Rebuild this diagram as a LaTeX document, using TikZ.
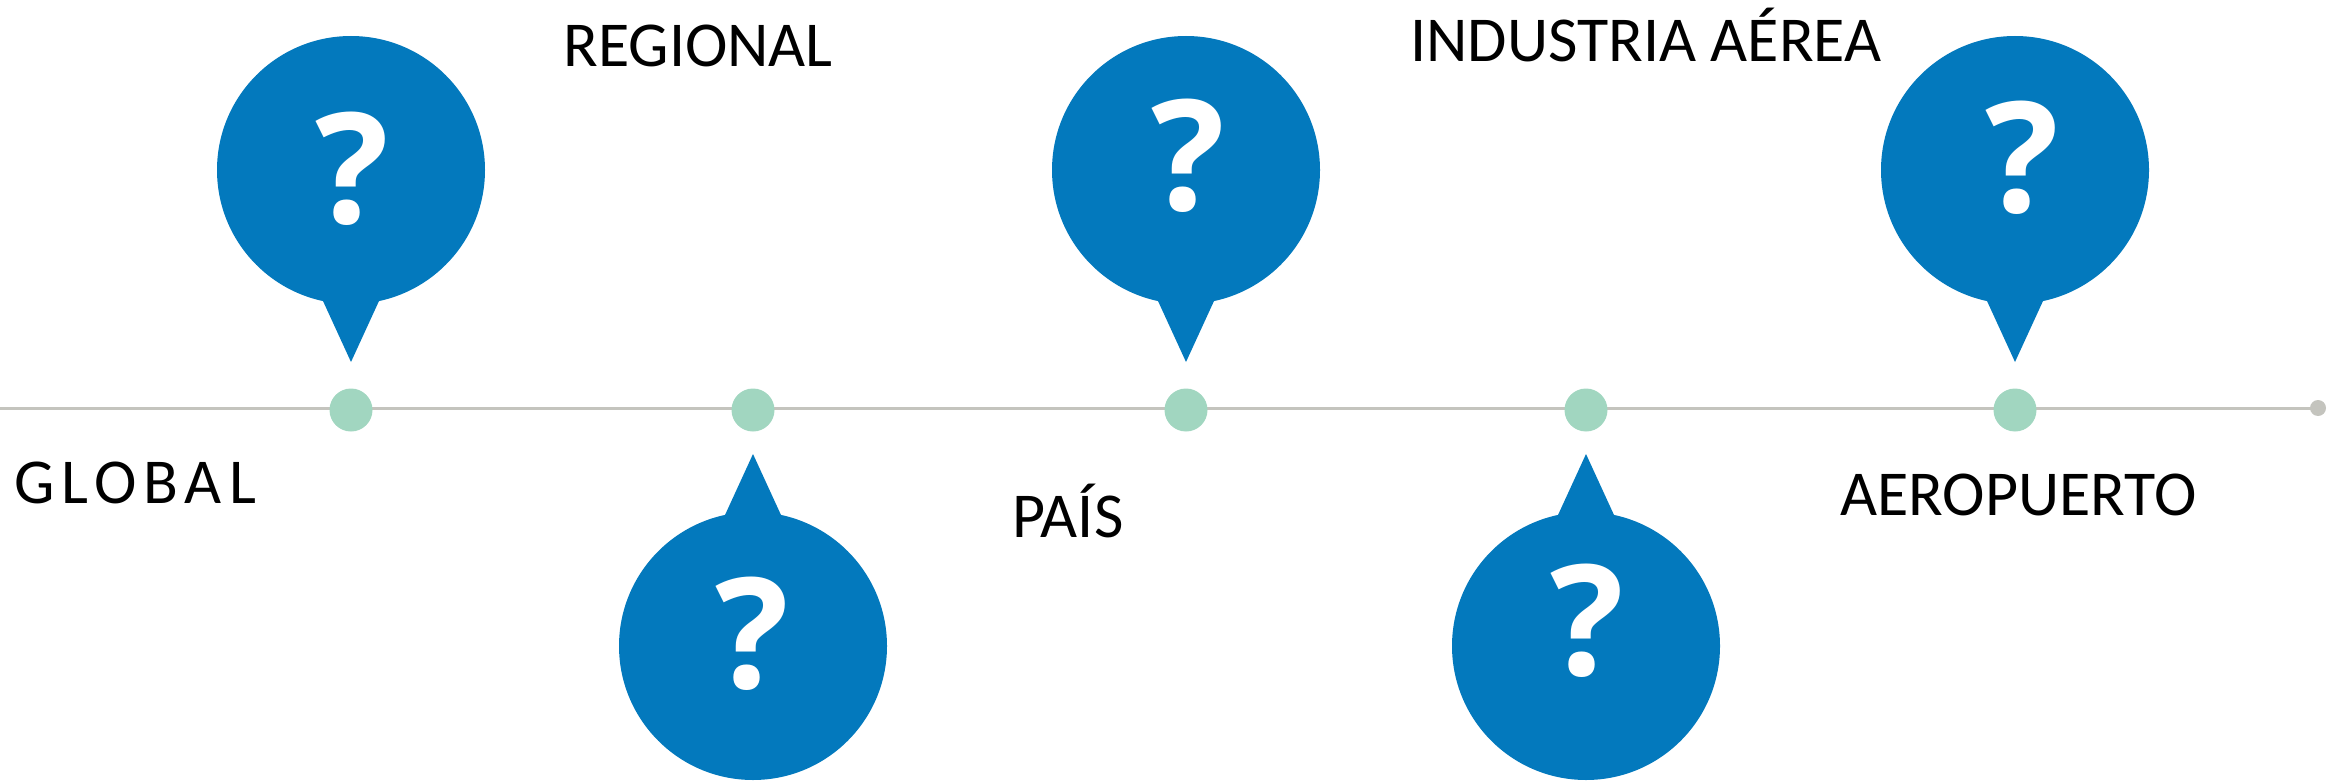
\documentclass[tikz,border=0pt]{standalone}
\usepackage{fontspec}
\setmainfont{Carlito}
\newfontfamily\qfont{Open Sans}
\newfontfamily\spacedfont[LetterSpace=11]{Carlito}
\definecolor{bubbleblue}{RGB}{3,121,189}
\definecolor{dotgreen}{RGB}{161,214,192}
\definecolor{linegray}{RGB}{196,196,190}
\tikzset{
  bubble/.style={fill=bubbleblue, draw=none},
  tldot/.style={circle, fill=dotgreen, draw=none, minimum size=21.5pt, inner sep=0pt},
  enddot/.style={circle, fill=linegray, draw=none, minimum size=8pt, inner sep=0pt},
  label/.style={anchor=base west, inner sep=0pt, font=\fontsize{32pt}{38pt}\selectfont, text=black},
  qmark/.style={anchor=base, inner sep=0pt, text=white, font=\qfont\bfseries\fontsize{77pt}{80pt}\selectfont}
}
\begin{document}
\begin{tikzpicture}[x=0.5pt,y=-0.5pt]
\useasboundingbox (0,0) rectangle (2335,781);
% timeline
\coordinate (start) at (0,408);
\node[enddot] (end) at (2318,408) {};
\draw[linegray, line width=1.5pt] (start) -- (end.center);
% dots
\node[tldot] (d1) at (351,410) {};
\node[tldot] (d2) at (753,410) {};
\node[tldot] (d3) at (1186,410) {};
\node[tldot] (d4) at (1586,410) {};
\node[tldot] (d5) at (2015,410) {};
% bubbles above
\foreach \cx/\nm in {351/b1, 1186/b3, 2015/b5}{
  \fill[bubble] (\cx,170) circle[radius=134];
  \fill[bubble] (\cx-28,301) -- (\cx,362) -- (\cx+28,301) -- (\cx,170) -- cycle;
}
% bubbles below
\foreach \cx/\nm in {753/b2, 1586/b4}{
  \fill[bubble] (\cx,646) circle[radius=134];
  \fill[bubble] (\cx-28,515) -- (\cx,454) -- (\cx+28,515) -- (\cx,646) -- cycle;
}
% question marks
\node[qmark] (q1) at (352,223) {?};
\node[qmark] (q2) at (752,688) {?};
\node[qmark] (q3) at (1188,210) {?};
\node[qmark] (q4) at (1587,675) {?};
\node[qmark] (q5) at (2022,213) {?};
% labels
\node[label, font=\spacedfont\fontsize{32pt}{38pt}\selectfont] (global) at (14,503) {GLOBAL};
\node[label] (regional) at (563,67) {REGIONAL};
\node[label] (pais) at (1012,537) {PAÍS};
\node[label] (industria) at (1410,62) {INDUSTRIA AÉREA};
\node[label] (aeropuerto) at (1840,515) {AEROPUERTO};
\end{tikzpicture}
\end{document}
